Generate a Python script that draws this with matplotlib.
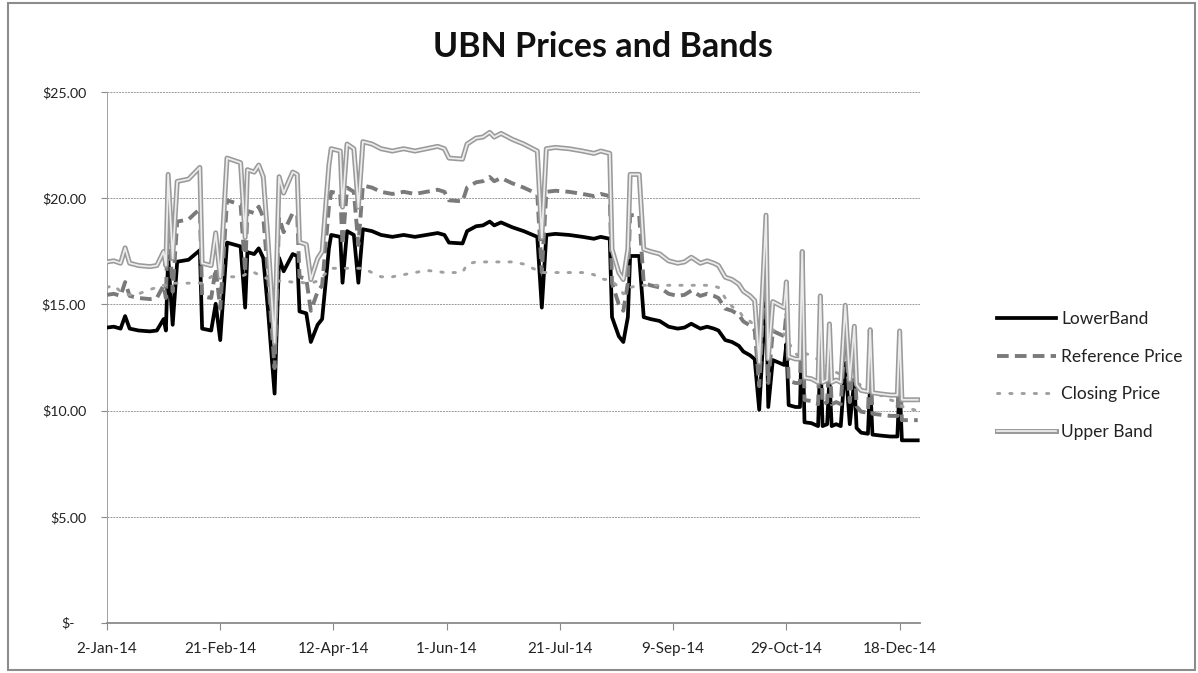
import matplotlib
matplotlib.use('Agg')
import matplotlib.pyplot as plt
import matplotlib.patheffects as pe
from matplotlib.patches import Rectangle
from matplotlib.ticker import FixedLocator, FixedFormatter
import pandas as pd

# ---------------- data ----------------
start_date = '2014-01-02'
axis_end = '2014-12-27'

day_offset = [0, 3, 6, 8, 10, 14, 19, 22, 25, 26, 27, 29, 31, 36, 39, 41, 42, 46, 48, 50,
              53, 56, 59, 61, 62, 65, 67, 69, 71, 74, 76, 78, 82, 84, 85, 88, 90, 93, 95, 98,
              99, 103, 104, 106, 109, 111, 113, 117, 121, 126, 131, 136, 141, 146, 149, 151, 157, 159, 163, 166,
              169, 171, 174, 179, 184, 188, 190, 192, 194, 198, 204, 210, 215, 218, 222, 223, 226, 228, 230, 231,
              235, 237, 240, 244, 248, 252, 255, 258, 262, 265, 268, 270, 273, 276, 279, 281, 284, 286, 288, 291,
              292, 294, 297, 299, 300, 301, 304, 306, 307, 308, 311, 314, 315, 316, 318, 319, 320, 322, 324, 326,
              328, 330, 331, 333, 336, 337, 338, 342, 346, 349, 350, 351, 354, 358]

reference_price = [15.45, 15.5, 15.4, 16.05, 15.4, 15.3, 15.25, 15.3, 15.9, 15.3, 19.2, 15.6, 18.9, 19.0, 19.3, 19.5, 15.4, 15.3, 16.7, 14.8,
                   19.9, 19.8, 19.7, 16.5, 19.4, 19.3, 19.6, 19.1, 16.5, 12.0, 19.1, 18.4, 19.3, 19.2, 16.3, 16.2, 14.7, 15.6, 15.9, 19.6,
                   20.3, 20.2, 17.8, 20.5, 20.3, 17.8, 20.6, 20.5, 20.3, 20.2, 20.3, 20.2, 20.3, 20.4, 20.3, 19.9, 19.85, 20.5, 20.75, 20.8,
                   21.0, 20.8, 20.95, 20.7, 20.5, 20.3, 20.2, 16.5, 20.3, 20.35, 20.3, 20.2, 20.1, 20.2, 20.1, 16.0, 15.0, 14.7, 16.0, 19.2,
                   19.2, 16.0, 15.9, 15.8, 15.5, 15.4, 15.45, 15.65, 15.4, 15.5, 15.4, 15.3, 14.8, 14.7, 14.5, 14.2, 14.0, 13.8, 11.15, 17.45,
                   11.3, 13.75, 13.6, 13.5, 14.6, 11.4, 11.3, 11.3, 15.9, 10.5, 10.45, 10.3, 14.0, 10.3, 10.4, 12.8, 10.3, 10.4, 10.3, 13.6,
                   10.4, 12.7, 10.2, 9.95, 9.9, 12.55, 9.85, 9.8, 9.75, 9.75, 12.5, 9.55, 9.55, 9.55]

lower_band = [13.91, 13.95, 13.86, 14.45, 13.86, 13.77, 13.73, 13.77, 14.31, 13.77, 17.28, 14.04, 17.01, 17.10, 17.37, 17.55, 13.86, 13.77, 15.03, 13.32,
              17.91, 17.82, 17.73, 14.85, 17.46, 17.37, 17.64, 17.19, 14.85, 10.80, 17.19, 16.56, 17.37, 17.28, 14.67, 14.58, 13.23, 14.04, 14.31, 17.64,
              18.27, 18.18, 16.02, 18.45, 18.27, 16.02, 18.54, 18.45, 18.27, 18.18, 18.27, 18.18, 18.27, 18.36, 18.27, 17.91, 17.87, 18.45, 18.68, 18.72,
              18.90, 18.72, 18.86, 18.63, 18.45, 18.27, 18.18, 14.85, 18.27, 18.32, 18.27, 18.18, 18.09, 18.18, 18.09, 14.40, 13.50, 13.23, 14.40, 17.28,
              17.28, 14.40, 14.31, 14.22, 13.95, 13.86, 13.91, 14.09, 13.86, 13.95, 13.86, 13.77, 13.32, 13.23, 13.05, 12.78, 12.60, 12.42, 10.04, 15.71,
              10.17, 12.38, 12.24, 12.15, 13.14, 10.26, 10.17, 10.17, 14.31, 9.45, 9.41, 9.27, 12.60, 9.27, 9.36, 11.52, 9.27, 9.36, 9.27, 12.24,
              9.36, 11.43, 9.18, 8.96, 8.91, 11.30, 8.87, 8.82, 8.78, 8.78, 11.25, 8.60, 8.60, 8.60]

upper_band = [17.00, 17.05, 16.94, 17.66, 16.94, 16.83, 16.78, 16.83, 17.49, 16.83, 21.12, 17.16, 20.79, 20.90, 21.23, 21.45, 16.94, 16.83, 18.37, 16.28,
              21.89, 21.78, 21.67, 18.15, 21.34, 21.23, 21.56, 21.01, 18.15, 13.20, 21.01, 20.24, 21.23, 21.12, 17.93, 17.82, 16.17, 17.16, 17.49, 21.56,
              22.33, 22.22, 19.58, 22.55, 22.33, 19.58, 22.66, 22.55, 22.33, 22.22, 22.33, 22.22, 22.33, 22.44, 22.33, 21.89, 21.84, 22.55, 22.83, 22.88,
              23.10, 22.88, 23.05, 22.77, 22.55, 22.33, 22.22, 18.15, 22.33, 22.39, 22.33, 22.22, 22.11, 22.22, 22.11, 17.60, 16.50, 16.17, 17.60, 21.12,
              21.12, 17.60, 17.49, 17.38, 17.05, 16.94, 17.00, 17.22, 16.94, 17.05, 16.94, 16.83, 16.28, 16.17, 15.95, 15.62, 15.40, 15.18, 12.27, 19.20,
              12.43, 15.13, 14.96, 14.85, 16.06, 12.54, 12.43, 12.43, 17.49, 11.55, 11.50, 11.33, 15.40, 11.33, 11.44, 14.08, 11.33, 11.44, 11.33, 14.96,
              11.44, 13.97, 11.22, 10.95, 10.89, 13.81, 10.84, 10.78, 10.73, 10.73, 13.75, 10.51, 10.51, 10.51]

closing_price = [15.8, 15.9, 15.6, 15.5, 15.45, 15.5, 15.7, 15.8, 15.9, 15.9, 16.0, 16.0, 16.0, 16.0, 16.0, 16.0, 16.0, 16.3, 16.5, 16.4,
                 16.3, 16.3, 16.3, 16.4, 16.5, 16.5, 16.4, 16.3, 16.2, 16.1, 16.1, 16.1, 16.05, 16.05, 16.05, 16.0, 16.0, 16.1, 16.3, 16.6,
                 16.7, 16.7, 16.7, 16.7, 16.7, 16.7, 16.7, 16.5, 16.3, 16.3, 16.4, 16.5, 16.6, 16.55, 16.5, 16.5, 16.5, 16.9, 17.0, 17.0,
                 17.0, 17.0, 17.0, 17.0, 16.9, 16.7, 16.6, 16.5, 16.5, 16.5, 16.5, 16.5, 16.4, 16.2, 16.15, 16.1, 15.8, 15.5, 15.6, 15.8,
                 15.9, 15.9, 15.9, 15.9, 15.9, 15.9, 15.9, 15.9, 15.9, 15.9, 15.85, 15.8, 15.3, 14.9, 14.7, 14.4, 14.2, 14.0, 14.0, 13.9,
                 13.85, 13.8, 13.7, 13.6, 13.5, 13.2, 12.7, 12.5, 12.6, 12.7, 12.6, 12.4, 12.3, 12.2, 12.1, 12.0, 11.9, 11.8, 11.7, 11.6,
                 11.5, 11.4, 11.3, 11.2, 11.0, 10.9, 10.9, 10.7, 10.5, 10.4, 10.3, 10.2, 10.1, 10.0]

series_names = ['LowerBand', 'Reference Price', 'Closing Price', 'Upper Band']
title_text = 'UBN Prices and Bands'
y_ticks = [0, 5, 10, 15, 20, 25]
y_tick_labels = ['$-', '$5.00', '$10.00', '$15.00', '$20.00', '$25.00']
x_tick_labels = ['2-Jan-14', '21-Feb-14', '12-Apr-14', '1-Jun-14', '21-Jul-14',
                 '9-Sep-14', '29-Oct-14', '18-Dec-14']

# ---------------- figure ----------------
plt.rcParams['font.family'] = ['Lato', 'DejaVu Sans']
W, H = 1198, 673
fig = plt.figure(figsize=(W / 100, H / 100), dpi=100)
fig.patch.set_facecolor('white')
ax = fig.add_axes([107 / W, 1 - 623 / H, (920 - 107) / W, (623 - 92) / H])

dates = pd.Timestamp(start_date) + pd.to_timedelta(day_offset, unit='D')

ax.plot(dates, lower_band, color='black', lw=2.7, label=series_names[0],
        solid_joinstyle='round', zorder=3)
ax.plot(dates, reference_price, color='#7a7a7a', lw=2.8, linestyle=(0, (3.0, 1.6)),
        label=series_names[1], zorder=4)
ax.plot(dates, closing_price, color='#a0a0a0', lw=2.1, linestyle=(0, (0.8, 3.4)),
        dash_capstyle='round', label=series_names[2], zorder=5)
ax.plot(dates, upper_band, color='#ececec', lw=1.3, label=series_names[3], zorder=6,
        path_effects=[pe.Stroke(linewidth=3.6, foreground='#9a9a9a'), pe.Normal()])

ax.set_ylim(0, 25)
ax.set_xlim(pd.Timestamp(start_date), pd.Timestamp(axis_end))

ax.yaxis.set_major_locator(FixedLocator(y_ticks))
ax.yaxis.set_major_formatter(FixedFormatter(['' if t == '$-' else t for t in y_tick_labels]))
xt = pd.to_datetime(x_tick_labels, format='%d-%b-%y')
ax.set_xticks(xt)
ax.set_xticklabels(x_tick_labels)

ax.tick_params(axis='y', length=4, width=0.8, color='#8a8a8a', pad=11, labelsize=10.2,
               labelcolor='#222222')
ax.tick_params(axis='x', length=5, width=0.8, color='#8a8a8a', pad=9, labelsize=11,
               labelcolor='#222222')
# zero label of the accounting format sits left of the others
ax.annotate(y_tick_labels[0], xy=(0, 0), xycoords=('axes fraction', 'data'),
            xytext=(-23.5, 0), textcoords='offset points', ha='right', va='center',
            fontsize=10.2, color='#222222')

ax.grid(axis='y', color='#9a9a9a', lw=0.7, linestyle=(0, (2, 1)))
ax.set_axisbelow(True)
for s in ['top', 'right']:
    ax.spines[s].set_visible(False)
ax.spines['bottom'].set_color('#8a8a8a')
ax.spines['bottom'].set_linewidth(1.3)
ax.spines['left'].set_color('#a0a0a0')
ax.spines['left'].set_linewidth(0.7)
ax.spines['left'].set_linestyle((0, (2, 1)))

fig.text(0.503, 1 - 47 / H, title_text, ha='center', va='center', fontsize=24.5,
         fontweight='bold', color='#111111')

leg = fig.legend(loc='upper left', bbox_to_anchor=(997 / W, 1 - 311 / H), frameon=False,
                 fontsize=12.5, handlelength=3.4, handletextpad=0.3, labelspacing=1.25,
                 borderpad=0, borderaxespad=0)
for t in leg.get_texts():
    t.set_color('#222222')

fig.add_artist(Rectangle((8 / W, 3 / H), (1195 - 8) / W, (670 - 3) / H,
                         transform=fig.transFigure, fill=False,
                         edgecolor='#8c8c8c', lw=1.5))

fig.savefig('out.png', dpi=100, facecolor='white')
